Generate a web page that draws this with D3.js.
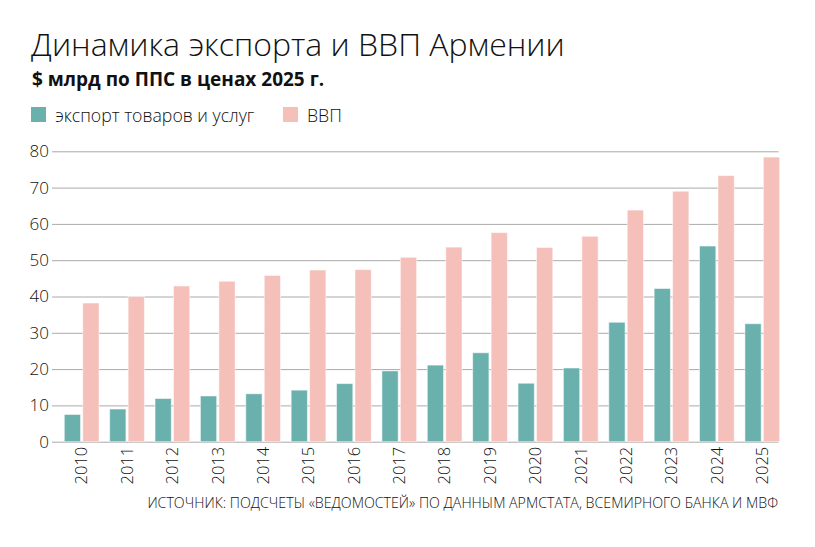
<!DOCTYPE html>
<html>
<head>
<meta charset="utf-8">
<script src="https://cdn.jsdelivr.net/npm/d3@7"></script>
<style>
  html, body { margin: 0; padding: 0; background: #fff; }
  svg { display: block; font-family: "Open Sans", sans-serif; }
</style>
</head>
<body>
<div id="chart"></div>
<script>
const years = ['2010','2011','2012','2013','2014','2015','2016','2017','2018','2019','2020','2021','2022','2023','2024','2025'];
const exportVals = [7.5, 9.0, 11.9, 12.6, 13.2, 14.2, 16.0, 19.5, 21.1, 24.5, 16.1, 20.3, 32.9, 42.2, 53.9, 32.5];
const gdpVals = [38.2, 40.0, 42.9, 44.2, 45.8, 47.3, 47.4, 50.8, 53.6, 57.6, 53.5, 56.6, 63.8, 69.0, 73.3, 78.4];
const seriesNames = ['экспорт товаров и услуг', 'ВВП'];
const seriesColors = ['#6ab0ad', '#f5bfba'];
const yTicks = [0, 10, 20, 30, 40, 50, 60, 70, 80];

const W = 815, H = 547;
const svg = d3.select('#chart').append('svg')
  .attr('width', W).attr('height', H);

// titles
svg.append('text')
  .attr('x', 31).attr('y', 56)
  .attr('font-size', 32).attr('font-weight', 300)
  .attr('fill', '#111')
  .text('Динамика экспорта и ВВП Армении');

svg.append('text')
  .attr('x', 32).attr('y', 86)
  .attr('font-size', 19).attr('font-weight', 700)
  .attr('fill', '#111')
  .text('$ млрд по ППС в ценах 2025 г.');

// legend
const legX = [31, 283];
seriesNames.forEach((name, i) => {
  svg.append('rect')
    .attr('x', legX[i]).attr('y', 107)
    .attr('width', 15).attr('height', 15)
    .attr('fill', seriesColors[i]);
  svg.append('text')
    .attr('x', legX[i] + 24).attr('y', 122)
    .attr('font-size', 17.7).attr('font-weight', 300)
    .attr('fill', '#111')
    .text(name);
});

// scales
const y = d3.scaleLinear().domain([0, 80]).range([441.7, 151.3]);
const x = d3.scaleBand().domain(years).range([58.5, 784.5]);
const x1 = d3.scaleBand().domain([0, 1]).range([5.8, 40.5]).paddingInner(0.12);

// grid + y labels
const yAxis = d3.axisLeft(y).tickValues(yTicks).tickSize(-(778.5 - 52)).tickPadding(3);
const gy = svg.append('g').attr('transform', 'translate(52,0)').call(yAxis);
gy.select('.domain').remove();
gy.selectAll('line').attr('stroke', '#aaa').attr('stroke-width', 1);
gy.selectAll('text')
  .attr('font-size', 17).attr('font-weight', 300)
  .attr('fill', '#111')
  .attr('font-family', '"Open Sans", sans-serif');

// bars
const data = years.map((yr, i) => ({ yr, vals: [exportVals[i], gdpVals[i]] }));
const groups = svg.selectAll('g.yr').data(data).enter().append('g')
  .attr('class', 'yr')
  .attr('transform', d => `translate(${x(d.yr)},0)`);

groups.selectAll('rect').data(d => d.vals).enter().append('rect')
  .attr('x', (v, i) => x1(i))
  .attr('y', v => y(v))
  .attr('width', x1.bandwidth())
  .attr('height', v => y(0) - y(v))
  .attr('fill', (v, i) => seriesColors[i])
  .attr('stroke', 'rgba(255,255,255,0.5)')
  .attr('stroke-width', 1);

// x labels
const gx = svg.append('g').attr('transform', `translate(0,${y(0)})`)
  .call(d3.axisBottom(x).tickSize(0).tickPadding(0));
gx.select('.domain').remove();
gx.selectAll('.tick').attr('transform', d => `translate(${x(d) + (x1(0) + x1(1) + x1.bandwidth()) / 2},0)`);
gx.selectAll('text')
  .attr('transform', 'rotate(-90)')
  .attr('x', -5).attr('y', 0).attr('dy', '0.35em')
  .attr('text-anchor', 'end')
  .attr('font-size', 16.5).attr('font-weight', 300)
  .attr('fill', '#111')
  .attr('font-family', '"Open Sans", sans-serif');

// source
svg.append('text')
  .attr('x', 778).attr('y', 508)
  .attr('text-anchor', 'end')
  .attr('font-size', 14.2).attr('font-weight', 300)
  .attr('fill', '#111')
  .text('ИСТОЧНИК: ПОДСЧЕТЫ «ВЕДОМОСТЕЙ» ПО ДАННЫМ АРМСТАТА, ВСЕМИРНОГО БАНКА И МВФ');
</script>
</body>
</html>
